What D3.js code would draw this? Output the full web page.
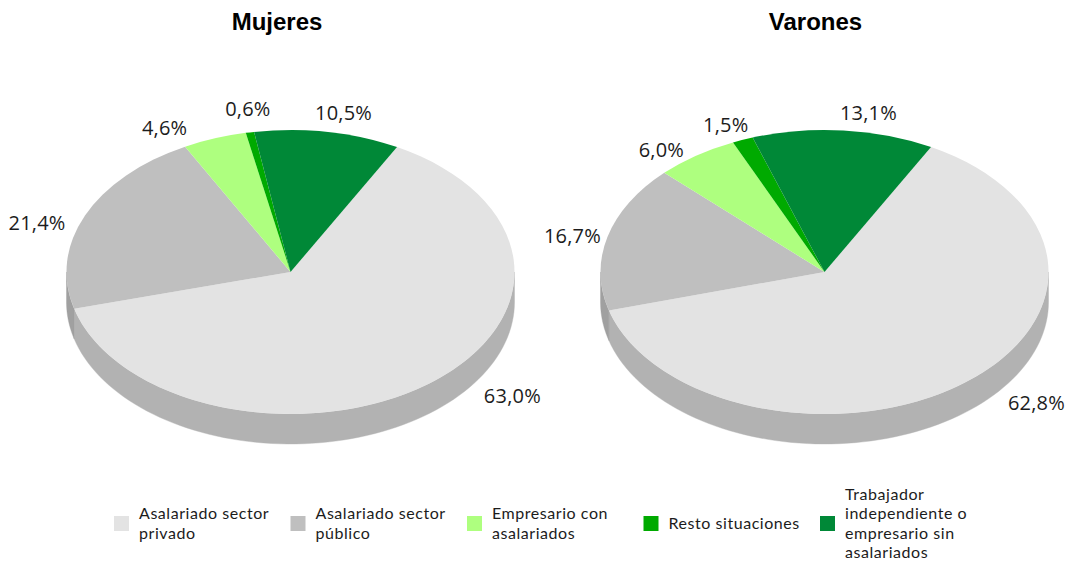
<!DOCTYPE html>
<html><head><meta charset="utf-8">
<script src="https://cdn.jsdelivr.net/npm/d3@7/dist/d3.min.js"></script>
<style>html,body{margin:0;padding:0;background:#fff}svg{display:block}
text{font-family:"Open Sans",sans-serif;fill:#1c1c1c}</style></head><body>
<svg id="c" width="1067" height="561"></svg>
<script>
const categories=["Asalariado sector privado","Asalariado sector público","Empresario con asalariados","Resto situaciones","Trabajador independiente o empresario sin asalariados"];
const mujeres=[63.0,21.4,4.6,0.6,10.5];
const varones=[62.8,16.7,6.0,1.5,13.1];
const colors=["#e3e3e3","#bfbfbf","#aeff7f","#00aa00","#008837"];
const wallColors=["#b2b2b2","#a0a0a0","#8fd068","#008800","#006b2b"];
const legendLines=[["Asalariado sector","privado"],["Asalariado sector","público"],["Empresario con","asalariados"],["Resto situaciones"],["Trabajador","independiente o","empresario sin","asalariados"]];
const fmt=v=>v.toFixed(1).replace(".",",")+"%";

const svg=d3.select("#c");
const rx=224,ry=142,depth=30,cy=272;
const deg=Math.PI/180,start=28.4*deg;
const pie=d3.pie().sort(null).startAngle(start).endAngle(start+2*Math.PI);
const arc=d3.arc().innerRadius(0).outerRadius(rx);
const pt=a=>[Math.sin(a)*rx,-Math.cos(a)*ry];

function draw(values,cx,title,titleX,offsets){
  const g=svg.append("g").attr("transform",`translate(${cx},${cy})`);
  const arcs=pie(values);
  const wall=d3.line();
  arcs.forEach((d,i)=>{
    const lo=Math.max(d.startAngle,Math.PI/2),hi=Math.min(d.endAngle,1.5*Math.PI);
    const lo2=Math.max(d.startAngle,2.5*Math.PI),hi2=Math.min(d.endAngle,3.5*Math.PI);
    [[lo,hi],[lo2,hi2]].forEach(([a,b])=>{
      if(b<=a) return;
      const top=d3.range(0,81).map(k=>pt(a+(b-a)*k/80));
      const bot=top.map(p=>[p[0],p[1]+depth]).reverse();
      g.append("path").attr("d",wall(top.concat(bot))+"Z").attr("fill",wallColors[i]).attr("stroke",wallColors[i]).attr("stroke-width",0.4);
    });
  });
  const top=g.append("g").attr("transform",`scale(1,${ry/rx})`);
  top.selectAll("path").data(arcs).join("path").attr("d",arc).attr("fill",(d,i)=>colors[i]);
  g.selectAll("text.v").data(arcs).join("text").attr("class","v")
    .attr("x",(d,i)=>pt((d.startAngle+d.endAngle)/2)[0]+offsets[i][0])
    .attr("y",(d,i)=>pt((d.startAngle+d.endAngle)/2)[1]+offsets[i][1])
    .attr("text-anchor","middle").attr("dominant-baseline","central")
    .attr("font-size",20).style("letter-spacing","0.2px").text(d=>fmt(d.value));
  svg.append("text").attr("x",titleX).attr("y",30).attr("text-anchor","middle")
    .style("font-family","'Liberation Sans',sans-serif").style("font-weight","bold").style("fill","#000")
    .attr("font-size",24).text(title);
}
draw(mujeres,290.5,"Mujeres",277,[[83,12],[-48,7],[-50,-11],[-2,-24],[16,-19]]);
draw(varones,824.5,"Varones",815.5,[[72,20],[-35,-1],[-35,-6],[-17,-15],[25,-18]]);

const lx=d3.scalePoint().domain(categories).range([114,820]);
const leg=svg.selectAll("g.l").data(categories).join("g").attr("class","l")
  .attr("transform",d=>`translate(${lx(d)},523.5)`);
leg.append("rect").attr("x",0).attr("y",-7.5).attr("width",15).attr("height",15).attr("fill",(d,i)=>colors[i]);
leg.each(function(d,i){
  const L=legendLines[i],h=19.2;
  d3.select(this).selectAll("text").data(L).join("text")
    .attr("x",25).attr("y",(t,j)=>(j-(L.length-1)/2)*h-1)
    .attr("dominant-baseline","central").attr("font-size",16)
    .style("font-family","Lato,sans-serif").style("letter-spacing","0.55px").text(t=>t);
});
</script></body></html>
